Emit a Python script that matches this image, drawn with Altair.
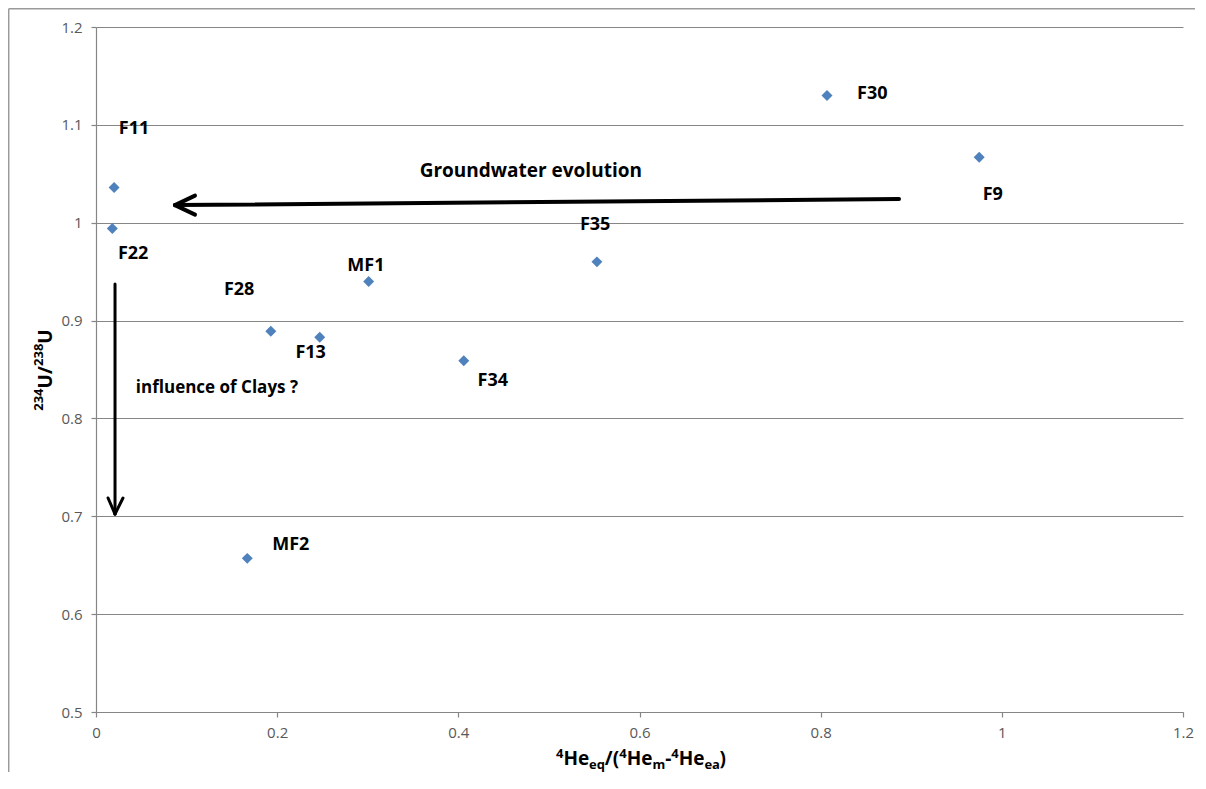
import altair as alt
import pandas as pd

# ---------------- data ----------------
names = ["F11", "F22", "F28", "F13", "MF1", "F34", "F35", "F30", "F9", "MF2"]
he_ratio = [0.020, 0.018, 0.193, 0.247, 0.301, 0.406, 0.553, 0.807, 0.975, 0.167]
u_ratio = [1.036, 0.994, 0.889, 0.883, 0.940, 0.859, 0.960, 1.130, 1.067, 0.657]
label_x = [0.042, 0.041, 0.158, 0.237, 0.298, 0.438, 0.551, 0.857, 0.990, 0.215]
label_y = [1.096, 0.968, 0.931, 0.867, 0.956, 0.838, 0.998, 1.132, 1.028, 0.671]

x_ticks = [0, 0.2, 0.4, 0.6, 0.8, 1, 1.2]
y_ticks = [0.5, 0.6, 0.7, 0.8, 0.9, 1, 1.1, 1.2]

# arrow segments (data coordinates): shaft + two head arms each
seg_x = [0.8865, 0.0872, 0.0872, 0.0210, 0.0210, 0.0210]
seg_y = [1.0242, 1.0180, 1.0180, 0.9374, 0.7023, 0.7023]
seg_x2 = [0.0872, 0.1093, 0.1093, 0.0210, 0.0133, 0.0298]
seg_y2 = [1.0180, 1.0277, 1.0083, 0.7023, 0.7187, 0.7187]
seg_w = [4, 4, 4, 3, 3, 3]

notes = ["Groundwater evolution", "influence of Clays ?"]
note_x = [0.480, 0.044]
note_y = [1.053, 0.831]

# ---------------- layout ----------------
W, H = 1087, 685
FONT = "Open Sans"
GRAY = "#868686"
BLUE = "#4F81BD"

xs = alt.Scale(domain=[0, 1.2], nice=False, zero=False)
ys = alt.Scale(domain=[0.5, 1.2], nice=False, zero=False)

pts = pd.DataFrame({"name": names, "x": he_ratio, "y": u_ratio})
lbl = pd.DataFrame({"name": names, "x": label_x, "y": label_y})
segs = pd.DataFrame({"x": seg_x, "y": seg_y, "x2": seg_x2, "y2": seg_y2, "w": seg_w})
nts = pd.DataFrame({"t": notes, "x": note_x, "y": note_y})

points = alt.Chart(pts).mark_point(
    shape="diamond", filled=True, size=120, color=BLUE, opacity=1
).encode(
    x=alt.X("x:Q", scale=xs, title="",
            axis=alt.Axis(values=x_ticks, grid=False, labelFlush=False, format="~g")),
    y=alt.Y("y:Q", scale=ys, title="",
            axis=alt.Axis(values=y_ticks, grid=True, format="~g")),
)

labels = alt.Chart(lbl).mark_text(
    font=FONT, fontSize=18, fontWeight="bold", color="#000000",
    align="center", baseline="middle"
).encode(
    x=alt.X("x:Q", scale=xs), y=alt.Y("y:Q", scale=ys), text="name:N"
)

arrows_thick = alt.Chart(segs[segs.w == 4]).mark_rule(
    color="#000000", strokeWidth=4, strokeCap="round"
).encode(
    x=alt.X("x:Q", scale=xs), y=alt.Y("y:Q", scale=ys), x2="x2:Q", y2="y2:Q"
)
arrows_thin = alt.Chart(segs[segs.w == 3]).mark_rule(
    color="#000000", strokeWidth=3, strokeCap="round"
).encode(
    x=alt.X("x:Q", scale=xs), y=alt.Y("y:Q", scale=ys), x2="x2:Q", y2="y2:Q"
)

note1 = alt.Chart(nts.iloc[[0]]).mark_text(
    font=FONT, fontSize=19, fontWeight="bold", color="#000000",
    align="center", baseline="middle"
).encode(x=alt.X("x:Q", scale=xs), y=alt.Y("y:Q", scale=ys), text="t:N")
note2 = alt.Chart(nts.iloc[[1]]).mark_text(
    font=FONT, fontSize=17, fontWeight="bold", color="#000000",
    align="left", baseline="middle"
).encode(x=alt.X("x:Q", scale=xs), y=alt.Y("y:Q", scale=ys), text="t:N")

# ---------------- axis titles with super/subscripts ----------------
adv = {"0": 0.572, "2": 0.572, "3": 0.572, "4": 0.572, "8": 0.572,
       "H": 0.778, "e": 0.576, "q": 0.631, "a": 0.59, "m": 0.973,
       "U": 0.758, "/": 0.426, "(": 0.339, ")": 0.339, "-": 0.322}
BIG, SMALL = 19, 13


def width(s, size):
    return sum(adv.get(c, 0.6) for c in s) * size


one = pd.DataFrame({"k": [0]})
title_layers = []

x_pieces = [("4", "sup"), ("He", "main"), ("eq", "sub"), ("/(", "main"),
            ("4", "sup"), ("He", "main"), ("m", "sub"), ("-", "main"),
            ("4", "sup"), ("He", "main"), ("ea", "sub"), (")", "main")]
x_base = {"main": 738, "sup": 731, "sub": 742}
total = sum(width(t, BIG if k == "main" else SMALL) for t, k in x_pieces)
cx = 545 - total / 2
for t, k in x_pieces:
    sz = BIG if k == "main" else SMALL
    title_layers.append(
        alt.Chart(one).mark_text(
            font=FONT, fontSize=sz, fontWeight="bold", color="#000000",
            align="left", baseline="alphabetic"
        ).encode(x=alt.value(cx), y=alt.value(x_base[k]), text=alt.value(t))
    )
    cx += width(t, sz)

y_pieces = [("234", "sup"), ("U/", "main"), ("238", "sup"), ("U", "main")]
y_base = {"main": -44, "sup": -53}
total = sum(width(t, BIG if k == "main" else SMALL) for t, k in y_pieces)
cy = 343 + total / 2
for t, k in y_pieces:
    sz = BIG if k == "main" else SMALL
    title_layers.append(
        alt.Chart(one).mark_text(
            font=FONT, fontSize=sz, fontWeight="bold", color="#000000",
            align="left", baseline="alphabetic", angle=270
        ).encode(x=alt.value(y_base[k]), y=alt.value(cy), text=alt.value(t))
    )
    cy -= width(t, sz)

# outer chart-area frame: left and top edges, kept inside the drawing area
frame_left = alt.Chart(one).mark_rule(color="#9a9a9a", strokeWidth=1.5).encode(
    x=alt.value(-87.3), y=alt.value(-18.3), y2=alt.value(745))
frame_top = alt.Chart(one).mark_rule(color="#9a9a9a", strokeWidth=1.5).encode(
    x=alt.value(-87.3), x2=alt.value(1099), y=alt.value(-18.3))

chart = alt.layer(
    frame_left, frame_top, points, arrows_thick, arrows_thin,
    labels, note1, note2, *title_layers
).properties(
    width=W, height=H,
    autosize=alt.AutoSizeParams(type="none"),
    padding={"left": 88, "top": 19, "right": 14, "bottom": 62},
    background="#ffffff",
).configure_view(
    stroke=None
).configure_axis(
    labelFont=FONT, labelFontSize=15, labelColor="#595959",
    domainColor=GRAY, domainWidth=1.2, tickColor=GRAY, tickWidth=1.2,
    tickSize=5, gridColor=GRAY, gridWidth=1.2, gridOpacity=1,
).configure_axisX(labelPadding=8).configure_axisY(labelPadding=9)

chart.save("out.html", embed_options={"renderer": "svg", "actions": False})
